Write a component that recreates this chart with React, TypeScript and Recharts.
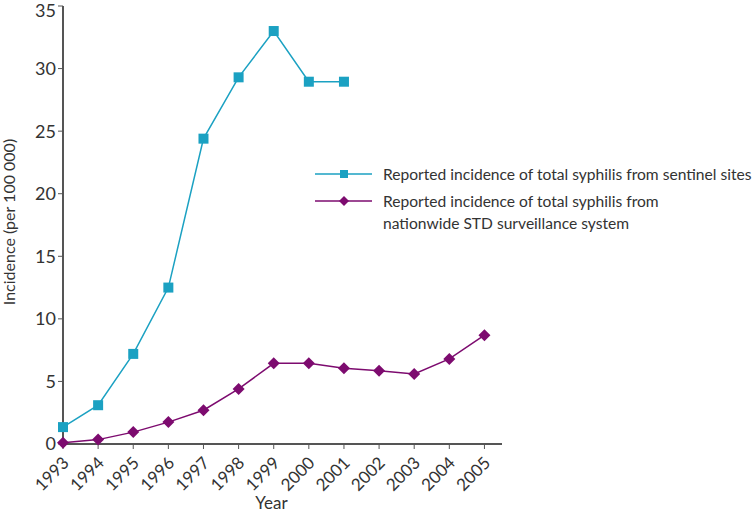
import React from 'react';
import { LineChart, Line, XAxis, YAxis, Legend, Label } from 'recharts';

const years = [1993, 1994, 1995, 1996, 1997, 1998, 1999, 2000, 2001, 2002, 2003, 2004, 2005];
const sentinel = [1.35, 3.1, 7.2, 12.5, 24.4, 29.3, 33.0, 28.95, 28.95];
const nationwide = [0.1, 0.35, 0.95, 1.75, 2.7, 4.4, 6.45, 6.45, 6.05, 5.85, 5.6, 6.8, 8.7];
const yTicks = [0, 5, 10, 15, 20, 25, 30, 35];

const CYAN = '#1ba1c2';
const PURPLE = '#7d0b6f';
const AXIS = '#555';
const FONT = 'Lato, sans-serif';

const data = years.map((year, i) => ({
  year,
  sentinel: i < sentinel.length ? sentinel[i] : null,
  nationwide: nationwide[i],
}));

const SquareDot = (props: any) => {
  const { cx, cy } = props;
  if (cx == null || cy == null) return null;
  return <rect x={cx - 5} y={cy - 5} width={10} height={10} fill={CYAN} />;
};

const DiamondDot = (props: any) => {
  const { cx, cy } = props;
  if (cx == null || cy == null) return null;
  return <polygon points={`${cx},${cy - 6} ${cx + 6},${cy} ${cx},${cy + 6} ${cx - 6},${cy}`} fill={PURPLE} />;
};

const YearTick = (props: any) => {
  const { x, y, payload } = props;
  return (
    <text
      x={x + 7}
      y={y + 13}
      textAnchor="end"
      transform={`rotate(-45 ${x + 7} ${y + 13})`}
      fontSize={17}
      fill="#333"
      fontFamily={FONT}
    >
      {payload.value}
    </text>
  );
};

const legendItems = [
  { color: CYAN, lines: ['Reported incidence of total syphilis from sentinel sites'], square: true },
  { color: PURPLE, lines: ['Reported incidence of total syphilis from', 'nationwide STD surveillance system'], square: false },
];

const LegendBox = () => (
  <svg width={440} height={80} style={{ display: 'block' }}>
    {legendItems.map((item, i) => {
      const y = 14 + i * 27;
      return (
        <g key={i}>
          <line x1={2} x2={59} y1={y} y2={y} stroke={item.color} strokeWidth={1.5} />
          {item.square ? (
            <rect x={27} y={y - 4} width={8} height={8} fill={item.color} />
          ) : (
            <polygon points={`${31},${y - 5} ${36},${y} ${31},${y + 5} ${26},${y}`} fill={item.color} />
          )}
          {item.lines.map((t, j) => (
            <text key={j} x={70} y={y + 6 + j * 22} fontSize={15.6} fill="#333" fontFamily={FONT}>
              {t}
            </text>
          ))}
        </g>
      );
    })}
  </svg>
);

export default function App() {
  return (
    <div style={{ position: 'absolute', left: 0, top: 0, background: '#fff' }}>
      <LineChart
        width={753}
        height={514}
        data={data}
        margin={{ top: 6, right: 251, left: 0, bottom: 0 }}
      >
        <XAxis
          dataKey="year"
          type="number"
          domain={[1993, 2005.5]}
          ticks={years}
          interval={0}
          tick={<YearTick />}
          tickLine={{ stroke: AXIS }}
          tickSize={5}
          axisLine={{ stroke: AXIS, strokeWidth: 2 }}
          height={70}
        >
          <Label value="Year" position="insideBottom" offset={5} dx={-11} fontSize={17} fill="#333" fontFamily={FONT} />
        </XAxis>
        <YAxis
          domain={[0, 35]}
          ticks={yTicks}
          width={63}
          tickSize={5}
          tickLine={{ stroke: AXIS }}
          axisLine={{ stroke: AXIS, strokeWidth: 2 }}
          tick={{ fontSize: 18, fill: '#333', fontFamily: FONT }}
        >
          <Label
            value="Incidence (per 100 000)"
            angle={-90}
            position="insideLeft"
            offset={9}
            dy={-3}
            style={{ textAnchor: 'middle' }}
            fontSize={16}
            fill="#333"
            fontFamily={FONT}
          />
        </YAxis>
        <Legend
          layout="vertical"
          verticalAlign="middle"
          align="center"
          wrapperStyle={{ top: 160, left: 313, width: 440, height: 80 }}
          content={() => <LegendBox />}
        />
        <Line
          dataKey="sentinel"
          stroke={CYAN}
          strokeWidth={1.5}
          dot={<SquareDot />}
          activeDot={false}
          isAnimationActive={false}
          connectNulls={false}
        />
        <Line
          dataKey="nationwide"
          stroke={PURPLE}
          strokeWidth={1.5}
          dot={<DiamondDot />}
          activeDot={false}
          isAnimationActive={false}
        />
      </LineChart>
    </div>
  );
}
